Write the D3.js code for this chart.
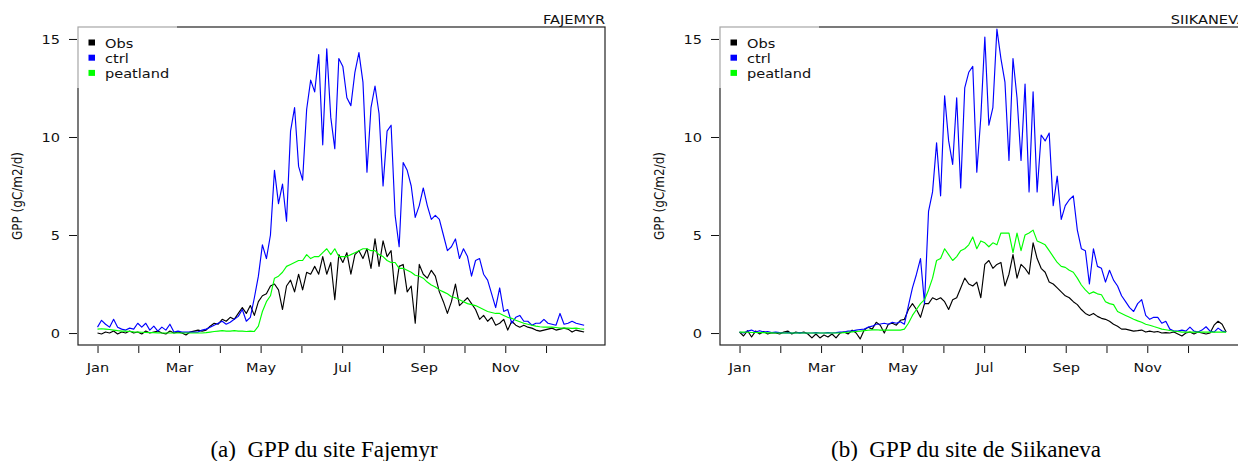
<!DOCTYPE html>
<html><head><meta charset="utf-8">
<script src="https://cdn.jsdelivr.net/npm/d3@7"></script>
<style>body{margin:0;background:#fff;} svg{display:block;font-family:"DejaVu Sans",sans-serif;}</style>
</head><body><svg id="c" width="1238" height="461"></svg>
<script>
// ---------------- DATA ----------------
const days = d3.range(1, 366, 3); // day of year, every 3 days (122 points)
const monthTicks = d3.range(12).map(k => 1 + k * 365 / 12);
const monthLabels = ["Jan","","Mar","","May","","Jul","","Sep","","Nov",""];
const yTicks = [0, 5, 10, 15];
const seriesNames = ["Obs", "ctrl", "peatland"];
const seriesColors = ["#000000", "#0000ff", "#00ff00"];
const siteTitles = ["FAJEMYR", "SIIKANEVA"];
const captions = ["(a)  GPP du site Fajemyr", "(b)  GPP du site de Siikaneva"];
const yLabel = "GPP (gC/m2/d)";

const fajObs = [0.0,-0.05,0.05,0.0,0.1,-0.05,0.05,0.0,0.1,0.0,
 0.05,-0.05,0.1,0.0,0.05,0.1,0.0,-0.05,0.1,0.0,
 0.05,0.0,-0.1,0.05,0.1,0.15,0.1,0.15,0.35,0.5,
 0.45,0.7,0.6,0.8,0.7,1.0,1.3,1.0,1.4,0.9,
 1.6,1.9,2.0,2.4,2.5,2.2,1.2,2.4,2.7,2.1,
 3.0,2.2,3.1,3.0,3.4,3.0,3.9,3.0,3.6,1.7,
 4.0,3.6,4.1,3.0,4.0,4.2,3.8,4.3,3.3,4.8,
 3.4,4.7,3.9,4.2,2.0,3.4,3.5,2.1,2.4,0.5,
 3.5,3.0,2.8,3.2,2.9,2.1,1.6,1.0,1.6,2.5,
 1.4,1.6,1.8,1.5,1.2,0.7,0.9,0.6,0.8,0.4,
 0.5,0.7,0.15,0.6,0.4,0.3,0.4,0.3,0.25,0.15,
 0.1,0.15,0.2,0.25,0.15,0.2,0.25,0.2,0.05,0.15,
 0.1,0.05];
const fajCtrl = [0.3,0.65,0.45,0.3,0.7,0.3,0.2,0.15,0.25,0.2,
 0.5,0.3,0.5,0.15,0.35,0.1,0.3,0.15,0.45,0.05,
 0.1,0.05,0.05,0.05,0.05,0.05,0.15,0.2,0.3,0.4,
 0.5,0.6,0.45,0.55,0.7,0.85,1.2,0.6,0.8,1.8,
 2.9,4.5,3.8,5.0,8.3,6.6,7.6,5.7,10.3,11.5,
 8.5,7.8,11.4,12.9,12.3,14.2,9.6,14.5,11.0,9.4,
 14.0,13.6,12.0,11.6,13.3,14.3,12.8,8.2,11.5,12.6,
 11.2,7.5,10.3,10.6,6.0,4.4,8.7,8.3,7.5,5.9,
 6.5,7.4,6.5,5.8,6.0,5.8,5.0,4.2,4.4,4.8,
 3.8,4.3,3.9,2.9,3.7,3.8,3.0,2.7,2.0,1.3,
 2.3,1.1,1.2,0.5,0.8,0.9,0.6,0.6,0.4,0.5,
 0.5,0.7,0.5,0.45,0.4,1.0,0.45,0.5,0.6,0.5,
 0.45,0.4];
const fajPeat = [0.2,0.22,0.2,0.18,0.15,0.12,0.1,0.1,0.08,0.06,
 0.05,0.04,0.03,0.02,0.02,0.01,0,0,0,0,
 0,0,0,0,0,0,0,0.02,0.05,0.08,
 0.1,0.12,0.1,0.1,0.12,0.1,0.1,0.08,0.1,0.08,
 0.35,1.1,1.6,1.9,2.8,2.9,3.1,3.4,3.5,3.6,
 3.7,3.7,4.0,3.8,3.9,3.9,4.1,4.3,4.0,4.3,
 3.9,3.9,3.9,4.0,4.1,4.2,4.3,4.3,4.2,4.2,
 4.0,3.9,3.7,3.6,3.6,3.3,3.3,3.2,3.1,2.95,
 2.9,2.8,2.6,2.45,2.35,2.2,2.1,2.0,1.85,1.8,
 1.7,1.6,1.5,1.45,1.4,1.3,1.2,1.1,1.05,1.0,
 1.0,0.9,0.8,0.75,0.65,0.58,0.5,0.45,0.4,0.35,
 0.32,0.3,0.3,0.3,0.28,0.25,0.25,0.25,0.24,0.25,
 0.22,0.2];
const siiObs = [0.05,-0.15,0.12,-0.2,0.1,-0.05,0.08,-0.05,0.02,0.0,
 -0.05,0.05,0.1,-0.05,0.05,0.0,0.05,-0.05,-0.25,-0.05,
 -0.25,-0.1,-0.2,-0.05,-0.25,0.0,0.05,-0.05,0.15,0.0,
 -0.3,0.15,0.3,0.2,0.55,0.4,0.0,0.45,0.5,0.4,
 0.65,0.7,1.2,1.5,1.2,0.8,1.5,1.5,1.8,1.7,
 1.8,1.6,1.2,1.7,1.8,2.3,2.8,2.5,2.4,2.6,
 1.8,3.5,3.7,3.3,3.5,3.6,2.4,3.0,4.0,2.8,
 3.5,3.3,3.0,4.6,3.8,3.3,3.1,2.6,2.5,2.3,
 2.1,1.9,1.8,1.6,1.45,1.2,1.0,0.9,1.0,0.85,
 0.75,0.7,0.6,0.45,0.35,0.2,0.2,0.15,0.1,0.12,
 0.15,0.05,0.1,0.05,0.08,0.0,0.02,0.0,0.05,-0.05,
 -0.15,0.0,0.05,-0.05,0.05,0.0,-0.05,0.0,0.4,0.6,
 0.45,0.05];
const siiCtrl = [0.05,0.0,0.1,0.15,0.05,0.12,0.05,0.08,0.02,0.05,
 0.02,0.0,0.02,0.0,0.0,0.02,0.0,0.0,0.0,0.02,
 0.0,0.0,0.02,0.0,0.02,0.05,0.05,0.1,0.1,0.15,
 0.18,0.2,0.3,0.35,0.45,0.46,0.5,0.45,0.55,0.5,
 0.58,0.45,1.4,2.3,3.0,3.8,1.5,6.2,7.2,9.7,
 7.0,12.1,9.8,8.6,12.0,7.4,12.5,13.3,13.6,8.2,
 11.0,15.1,10.6,11.5,15.5,14.0,12.8,8.8,14.0,12.0,
 8.8,12.7,7.2,12.3,7.2,10.1,9.8,10.2,6.5,8.0,
 5.8,6.5,6.8,7.0,5.25,4.3,4.2,2.5,4.3,3.4,
 3.3,2.6,3.2,2.7,2.4,1.9,1.6,1.3,1.1,1.5,
 1.7,0.9,0.7,0.8,0.8,0.5,0.6,0.2,0.1,0.1,
 0.15,0.1,0.3,0.1,0.05,0.15,0.32,0.1,0.05,0.25,
 0.1,0.05];
const siiPeat = [0.05,0.05,0.04,0.03,0.03,0.02,0.02,0.01,0.01,0,
 0,0,0,0,0,0,0,0,0,0,
 0,0,0,0,0,0,0.02,0.04,0.06,0.08,
 0.1,0.12,0.14,0.16,0.17,0.15,0.15,0.15,0.15,0.15,
 0.15,0.2,0.5,0.9,1.2,1.5,1.7,2.2,2.8,3.7,
 3.8,4.3,4.0,3.7,3.9,4.2,4.3,4.5,4.9,4.3,
 4.7,4.6,4.4,4.6,4.5,5.1,5.1,5.1,4.1,5.1,
 4.2,5.0,5.1,5.25,4.7,4.6,4.5,4.2,3.9,3.6,
 3.4,3.35,3.2,3.1,2.8,2.45,2.2,2.0,2.1,2.0,
 1.95,1.6,1.5,1.45,1.1,1.0,0.9,0.8,0.7,0.62,
 0.55,0.45,0.4,0.33,0.27,0.2,0.17,0.13,0.1,0.08,
 0.05,0.05,0.05,0.05,0.05,0.05,0.05,0.05,0.05,0.05,
 0.05,0.05];

// ---------------- LAYOUT ----------------
const svg = d3.select("#c");
const SX = 1.12; // horizontal stretch of the embedded figure
const TXT = "#111";
const panels = [
  {ox: 0,   series: [fajObs, fajCtrl, fajPeat]},
  {ox: 642, series: [siiObs, siiCtrl, siiPeat]}
];
const box = {l: 78, r: 605, t: 27, b: 345};

function stretchText(sel) {
  sel.each(function() {
    const t = d3.select(this);
    const x = +t.attr("x") || 0, y = +t.attr("y") || 0;
    t.attr("x", null).attr("y", null)
     .attr("transform", `translate(${x},${y}) scale(${SX},1)`);
  });
}

panels.forEach((p, pi) => {
  const g = svg.append("g").attr("transform", `translate(${p.ox},0)`);
  const x = d3.scaleLinear().domain([1 - 364 * 0.04, 365 + 364 * 0.04]).range([box.l, box.r]);
  const y = d3.scaleLinear().domain([-0.61, 15.61]).range([box.b, box.t]);

  const cid = "clip" + pi;
  g.append("clipPath").attr("id", cid).append("rect")
    .attr("x", box.l).attr("y", box.t).attr("width", box.r - box.l).attr("height", box.b - box.t);

  const line = d3.line().x((d, i) => x(days[i])).y(d => y(d));
  const lg = g.append("g").attr("clip-path", `url(#${cid})`);
  [0, 1, 2].forEach(k => {
    lg.append("path").datum(p.series[k])
      .attr("d", line).attr("fill", "none")
      .attr("stroke", seriesColors[k]).attr("stroke-width", 1.15)
      .attr("stroke-linejoin", "round");
  });

  // frame
  g.append("rect").attr("x", box.l).attr("y", box.t)
    .attr("width", box.r - box.l).attr("height", box.b - box.t)
    .attr("fill", "none").attr("stroke", "#222").attr("stroke-width", 1.2);

  // legend (semi-transparent white background)
  g.append("rect").attr("x", box.l - 1).attr("y", box.t - 1)
    .attr("width", 100).attr("height", 62)
    .attr("fill", "#fff").attr("fill-opacity", 0.6);
  seriesNames.forEach((nm, k) => {
    const cy = 42.5 + k * 15.2;
    g.append("rect").attr("x", 88.5).attr("y", cy - 3).attr("width", 6.5).attr("height", 6)
      .attr("fill", seriesColors[k]);
    g.append("text").attr("transform", `translate(105,${cy + 5}) scale(${SX},1)`)
      .style("font-size", "13px").attr("fill", TXT).text(nm);
  });

  // x axis
  const xa = g.append("g").attr("transform", `translate(0,${box.b + 1})`)
    .call(d3.axisBottom(x).tickValues(monthTicks).tickSize(7).tickPadding(10)
      .tickFormat((d, i) => monthLabels[i]));
  xa.select(".domain").remove();
  xa.selectAll("line").attr("stroke", "#111");
  xa.selectAll("text").style("font-size", "13px").attr("fill", TXT).call(stretchText);
  xa.attr("font-family", null).attr("font-size", null);

  // y axis
  const ya = g.append("g").attr("transform", `translate(${box.l - 1},0)`)
    .call(d3.axisLeft(y).tickValues(yTicks).tickSize(8).tickPadding(9));
  ya.select(".domain").remove();
  ya.selectAll("line").attr("stroke", "#111");
  ya.selectAll("text").style("font-size", "13px").attr("fill", TXT).call(stretchText);
  ya.attr("font-family", null).attr("font-size", null);

  // y label
  g.append("text").attr("transform", `translate(22,196) scale(${SX},1) rotate(-90)`)
    .attr("text-anchor", "middle").style("font-size", "12px").attr("fill", TXT).text(yLabel);

  // site title (the right one runs past the page edge, as in the reference)
  g.append("text").attr("transform", `translate(${box.r},24) scale(${SX},1)`)
    .attr("text-anchor", "end").style("font-size", "13px").attr("fill", TXT).text(siteTitles[pi]);

  // caption
  g.append("text").attr("x", 324).attr("y", 457).attr("text-anchor", "middle")
    .attr("xml:space", "preserve").style("white-space", "pre")
    .style("font-family", "'Liberation Serif', serif").style("font-size", "23px")
    .attr("fill", "#000").text(captions[pi]);
});
</script></body></html>
